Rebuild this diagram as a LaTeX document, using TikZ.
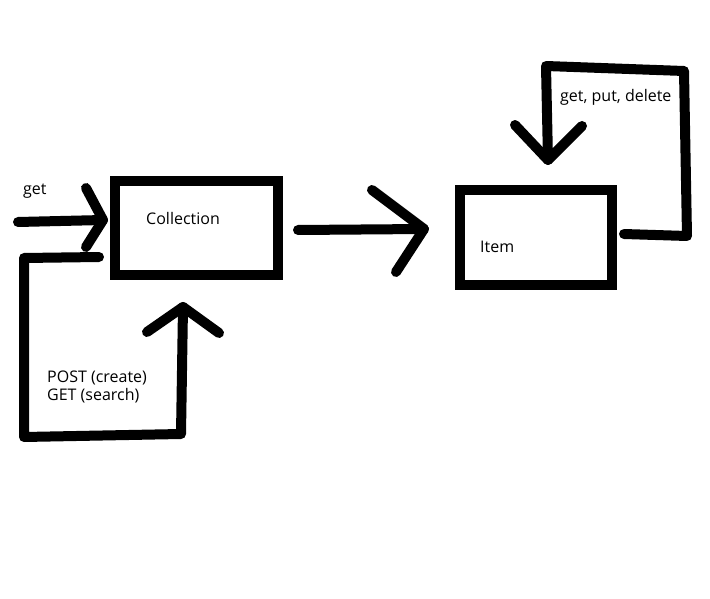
\documentclass[tikz,border=0pt]{standalone}
\usepackage{fontspec}
\setmainfont{Open Sans}
\begin{document}
\begin{tikzpicture}[x=1pt,y=-1pt,
  thick line/.style={line width=10pt,line cap=round,line join=round},
  boxnode/.style={draw,line width=10pt,minimum width=163pt,minimum height=94pt,inner sep=0pt,outer sep=0pt},
  lbl/.style={anchor=base west,inner sep=0pt,font=\fontsize{16}{20}\selectfont}]
\useasboundingbox (0,0) rectangle (710,599);
% boxes
\node[boxnode] (coll) at (196.5,228) {};
\node[boxnode,minimum width=152pt,minimum height=95pt] (item) at (536,237.5) {};
% labels
\node[lbl] (tget) at (23,195) {get};
\node[lbl] (tcoll) at (146,225) {Collection};
\node[lbl] (tpost) at (47,382) {POST (create)};
\node[lbl] (tgets) at (47,400) {GET (search)};
\node[lbl] (titem) at (480,252) {Item};
\node[lbl] (tgpd) at (560,102) {get, put, delete};
% coordinates
\coordinate (g0) at (18,222);
\coordinate (g1) at (103,220);
\coordinate (g1a) at (86,188);
\coordinate (g1b) at (86,247);
\coordinate (p0) at (99,257);
\coordinate (p1) at (24,258);
\coordinate (p2) at (24,437);
\coordinate (p3) at (181,434);
\coordinate (p4) at (183,307);
\coordinate (p4a) at (147,332);
\coordinate (p4b) at (219,333);
\coordinate (m0) at (298,230);
\coordinate (m1) at (424,229);
\coordinate (m1a) at (372,190);
\coordinate (m1b) at (396,272);
\coordinate (i0) at (624,234);
\coordinate (i1) at (687,236);
\coordinate (i2) at (684,71);
\coordinate (i3) at (546,66);
\coordinate (i4) at (548,160);
\coordinate (i4a) at (515,125);
\coordinate (i4b) at (582,126);
% get arrow
\draw[thick line] (g0) -- (g1);
\draw[thick line] (g1a) -- (g1) -- (g1b);
% POST/GET loop
\draw[thick line] (p0) -- (p1) -- (p2) -- (p3) -- (p4);
\draw[thick line] (p4a) -- (p4) -- (p4b);
% middle arrow
\draw[thick line] (m0) -- (m1);
\draw[thick line] (m1a) -- (m1) -- (m1b);
% item loop
\draw[thick line] (i0) -- (i1) -- (i2) -- (i3) -- (i4);
\draw[thick line] (i4a) -- (i4) -- (i4b);
\end{tikzpicture}
\end{document}
